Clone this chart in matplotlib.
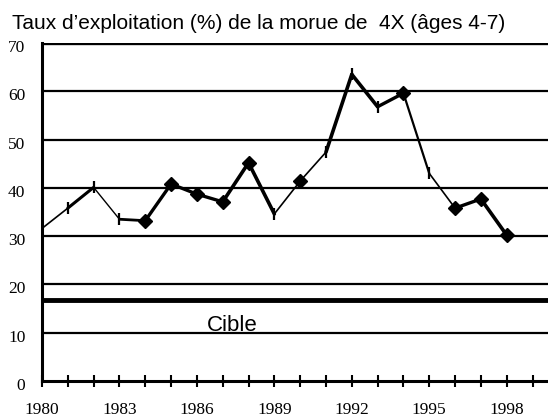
import matplotlib
matplotlib.use("Agg")
import matplotlib.pyplot as plt
from matplotlib import transforms

# ——— données ———
annees = list(range(1980, 1999))
taux = [31.6, 35.8, 40.1, 33.5, 33.2, 40.8, 38.7, 37.1, 45.2, 34.6,
        41.4, 47.4, 63.5, 56.8, 59.6, 43.0, 35.8, 37.7, 30.2]
cible = 16.7
titre = "Taux d\u2019exploitation (%) de la morue de  4X (âges 4-7)"
etiquette_cible = "Cible"

# style des marqueurs / épaisseur des segments (approximatif)
marques = ['', '|', '|', '|', 'D', 'D', 'D', 'D', 'D', '|',
           'D', '|', '|', '|', 'D', '|', 'D', 'D', 'D']
epais = [1.2, 2.2, 1.0, 2.0, 2.4, 2.4, 2.4, 2.6, 2.6, 1.2,
         1.2, 2.6, 2.6, 2.4, 1.6, 1.2, 2.4, 2.6]

fig = plt.figure(figsize=(5.48, 4.20), dpi=100)
ax = fig.add_axes([42/548, 39/420, 1 - 42/548, 338/420])

# lignes horizontales
for v in [10, 20, 30, 40, 50, 60]:
    ax.axhline(v, color='black', lw=1.6, zorder=1)
ax.axhline(70, color='black', lw=2.4, zorder=1)
ax.axhline(cible, color='black', lw=3.5, zorder=1)
ax.text(1986.4, 10.4, etiquette_cible, fontsize=16, family='Liberation Sans',
        ha='left', va='baseline')

# courbe
for i in range(len(annees) - 1):
    ax.plot(annees[i:i+2], taux[i:i+2], color='black', lw=epais[i],
            solid_capstyle='round', zorder=3)
for x, y, m in zip(annees, taux, marques):
    if m == 'D':
        ax.plot(x, y, marker='D', color='black', ms=7.5, zorder=4)
    elif m == '|':
        ax.plot(x, y, marker='|', color='black', ms=9, mew=1.6, zorder=4)

ax.set_xlim(1980, 1999.6)
ax.set_ylim(0, 70)
for s in ['top', 'right']:
    ax.spines[s].set_visible(False)
ax.spines['left'].set_linewidth(2.2)
ax.spines['bottom'].set_linewidth(2.2)

ax.set_xticks(list(range(1980, 2000)))
ax.set_xticklabels([str(a) if (a - 1980) % 3 == 0 else '' for a in range(1980, 2000)])
ax.tick_params(axis='x', direction='inout', length=8.6, width=1.5, pad=10.5,
               labelsize=12.5)
ax.set_yticks(range(0, 80, 10))
ax.tick_params(axis='y', length=0, pad=12, labelsize=12.5)
for lab in ax.get_xticklabels() + ax.get_yticklabels():
    lab.set_family('Liberation Serif')
decal = transforms.ScaledTranslation(0, -0.03, fig.dpi_scale_trans)
for lab in ax.get_yticklabels():
    lab.set_transform(lab.get_transform() + decal)

fig.text(12/548, 1 - 29/420, titre, fontsize=15, family='Liberation Sans',
         ha='left', va='baseline')

fig.savefig("out.png", dpi=100)
plt.close(fig)
